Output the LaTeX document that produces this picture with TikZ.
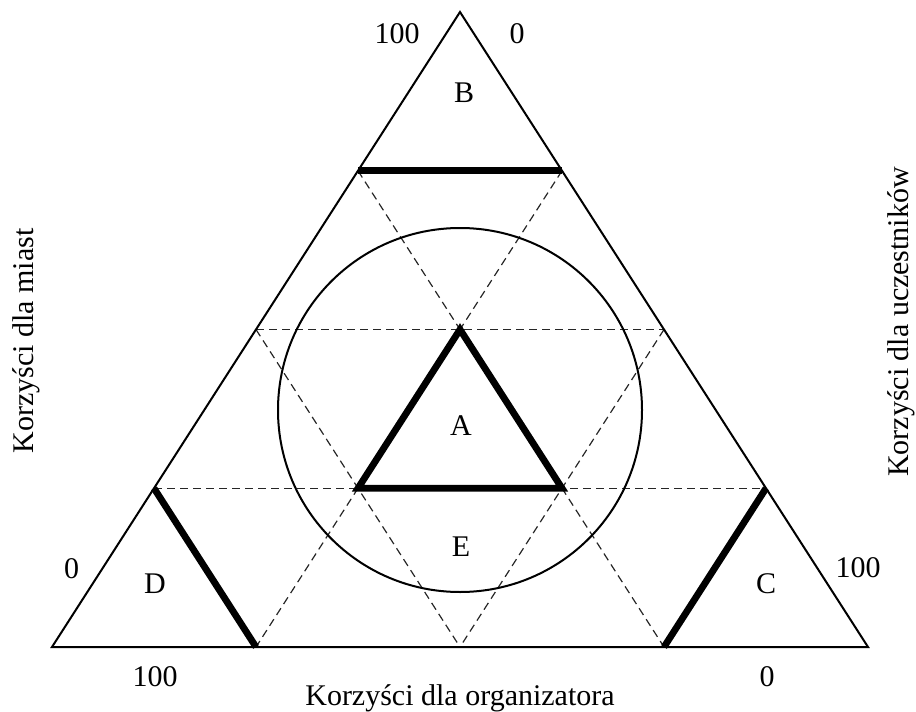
\documentclass[tikz,border=0pt]{standalone}
\usepackage{fontspec}
\setmainfont{Liberation Serif}
\usetikzlibrary{calc}
\begin{document}
\begin{tikzpicture}[x=1pt,y=-1pt,
  outline/.style={line width=2pt,line join=miter},
  thickline/.style={line width=6.8pt,line cap=butt},
  thicktri/.style={line width=6.8pt,line join=miter},
  guide/.style={line width=1.2pt,dash pattern=on 8pt off 5pt,draw=black!85},
  ring/.style={line width=2pt},
  lbl/.style={font=\fontsize{30}{35}\selectfont,anchor=base,inner sep=0pt}]
\useasboundingbox (0,0) rectangle (916,712);
% vertices
\coordinate (T) at (460,12);
\coordinate (L) at (52,647);
\coordinate (R) at (868,647);
\coordinate (b1) at (358,170.75);
\coordinate (b2) at (562,170.75);
\coordinate (mL) at (256,329.5);
\coordinate (mR) at (664,329.5);
\coordinate (d1) at (154,488.25);
\coordinate (c1) at (766,488.25);
\coordinate (d2) at (256,647);
\coordinate (c2) at (664,647);
\coordinate (mB) at (460,647);
\coordinate (A1) at (460,329.5);
\coordinate (A2) at (358,488.25);
\coordinate (A3) at (562,488.25);
\coordinate (O) at (460,410);
% dashed guides
\draw[guide] (mL) -- (mR);
\draw[guide] (d1) -- (c1);
\draw[guide] (b1) -- (c2);
\draw[guide] (b2) -- (d2);
\draw[guide] (mL) -- (mB);
\draw[guide] (mR) -- (mB);
% circle
\draw[ring] (O) circle[radius=182];
% outline
\draw[outline] (T) -- (L) -- (R) -- cycle;
% thick lines
\draw[thickline] (b1) -- (b2);
\draw[thickline] (d1) -- (d2);
\draw[thickline] (c1) -- (c2);
\draw[thicktri] (A1) -- (A2) -- (A3) -- cycle;
% labels
\node[lbl] (t100) at (397,43) {100};
\node[lbl] (t0) at (517,43) {0};
\node[lbl] (lB) at (464,102) {B};
\node[lbl] (lA) at (461,435) {A};
\node[lbl] (lE) at (461,556) {E};
\node[lbl] (lD) at (155,593) {D};
\node[lbl] (lC) at (766,593) {C};
\node[lbl] (l0) at (71.5,578) {0};
\node[lbl] (r100) at (858,577) {100};
\node[lbl] (b100) at (155,686) {100};
\node[lbl] (b0) at (767,686) {0};
\node[lbl] (xlab) at (460,705) {Korzyści dla organizatora};
\node[lbl,rotate=90] (ylab) at (33,341) {Korzyści dla miast};
\node[lbl,rotate=90] (zlab) at (908,322) {Korzyści dla uczestników};
\end{tikzpicture}
\end{document}
